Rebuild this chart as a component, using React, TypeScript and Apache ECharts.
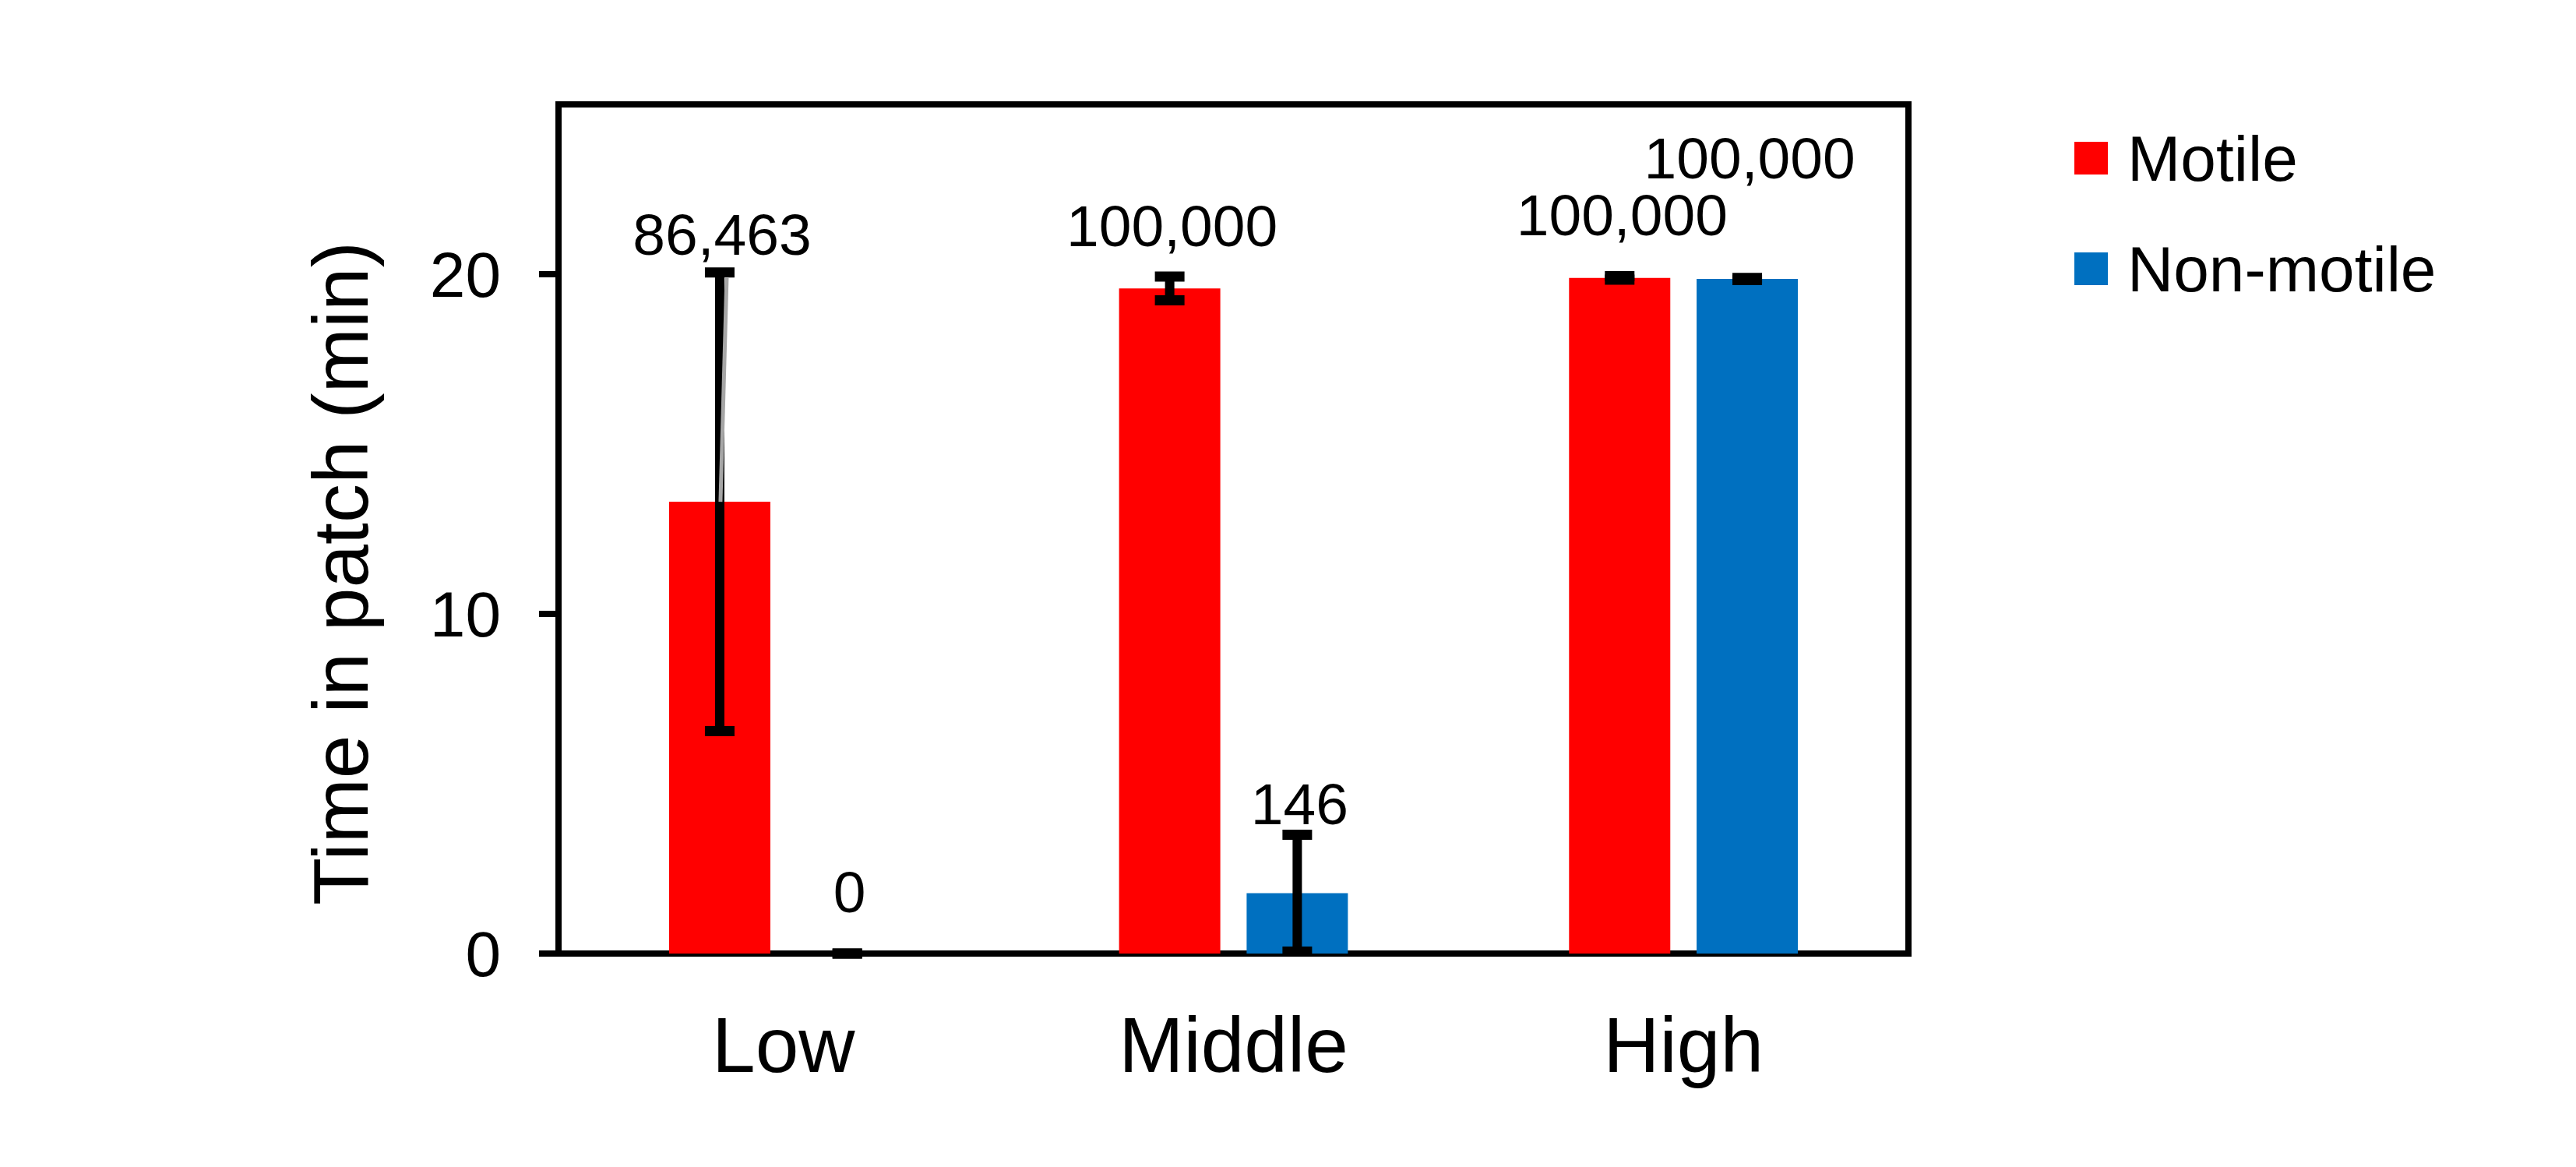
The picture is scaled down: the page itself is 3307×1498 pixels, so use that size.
import React, { useEffect, useRef } from "react";
import * as echarts from "echarts";

// ---- data ----
const categories = ["Low", "Middle", "High"];
const seriesNames = ["Motile", "Non-motile"];
const motileMean = [13.3, 19.58, 19.89];
const motileErr = [6.75, 0.35, 0.05];
const nonMotileMean = [0, 1.78, 19.86];
const nonMotileErr = [0, 1.72, 0.03];
const motileLabels = ["86,463", "100,000", "100,000"];
const nonMotileLabels = ["0", "146", "100,000"];
const yTicks = [0, 10, 20];
const lowMotileTrace = [13.3, 20.0]; // faint grey line next to the Low/Motile error bar

// ---- styling / layout ----
const FONT = "'Liberation Sans', Arial, Helvetica, sans-serif";
const COLORS = ["#FF0000", "#0070C0"];
const BAR_FRAC = 0.225;
const GAP_FRAC = 0.26;
const labelLift = [
  [49, 65, 79],
  [79, 39, 154],
];

function barOffset(api: any, s: number) {
  const band = api.size([1, 0])[0];
  const bw = band * BAR_FRAC;
  const gap = bw * GAP_FRAC;
  return ((s === 0 ? -1 : 1) * (bw + gap)) / 2;
}

function errorSeries(s: number, means: number[], errs: number[], labels: string[]) {
  return {
    type: "custom",
    name: seriesNames[s] + " error",
    z: 5,
    data: means.map((m, i) => [i, m, errs[i]]),
    encode: { x: 0, y: 1 },
    renderItem: (params: any, api: any) => {
      const idx = api.value(0);
      const mean = api.value(1);
      const err = api.value(2);
      const c = api.coord([idx, mean]);
      const x = c[0] + barOffset(api, s);
      const yHi = api.coord([idx, mean + err])[1];
      const yLo = api.coord([idx, Math.max(0, mean - err)])[1];
      const st = { stroke: "#000", lineWidth: 12 };
      const cap = { stroke: "#000", lineWidth: 13 };
      return {
        type: "group",
        children: [
          { type: "line", shape: { x1: x, y1: yHi, x2: x, y2: yLo }, style: st },
          { type: "line", shape: { x1: x - 19, y1: yHi, x2: x + 19, y2: yHi }, style: cap },
          { type: "line", shape: { x1: x - 19, y1: yLo, x2: x + 19, y2: yLo }, style: cap },
          {
            type: "text",
            x: x + 3,
            y: yHi - labelLift[s][idx],
            style: {
              text: labels[idx],
              fill: "#000",
              font: `75px ${FONT}`,
              align: "center",
              verticalAlign: "middle",
            },
          },
        ],
      };
    },
  };
}

export default function App() {
  const ref = useRef<HTMLDivElement>(null);
  useEffect(() => {
    if (!ref.current) return;
    const chart = echarts.init(ref.current, null, { renderer: "svg" });
    const option: any = {
      animation: false,
      backgroundColor: "#fff",
      grid: {
        left: 717,
        top: 134,
        width: 1733,
        height: 1090,
        show: true,
        borderColor: "#000",
        borderWidth: 8,
        backgroundColor: "transparent",
      },
      legend: {
        data: seriesNames,
        orient: "vertical",
        left: 2663,
        top: 158,
        padding: 0,
        itemWidth: 43,
        itemHeight: 42,
        itemGap: 52,
        icon: "rect",
        textStyle: {
          fontSize: 82,
          fontFamily: FONT,
          color: "#000",
          lineHeight: 90,
          padding: [0, 0, 0, 20],
        },
      },
      xAxis: {
        type: "category",
        data: categories,
        axisLine: { show: true, lineStyle: { color: "#000", width: 8 } },
        axisTick: { show: false },
        axisLabel: {
          fontSize: 100,
          lineHeight: 100,
          fontFamily: FONT,
          color: "#000",
          margin: 67,
        },
        splitLine: { show: false },
      },
      yAxis: {
        type: "value",
        min: 0,
        max: 25,
        interval: 10,
        axisLine: { show: true, lineStyle: { color: "#000", width: 8 } },
        axisTick: {
          show: true,
          length: 25,
          inside: false,
          customValues: yTicks,
          lineStyle: { color: "#000", width: 8 },
        },
        axisLabel: {
          customValues: yTicks,
          fontSize: 82,
          fontFamily: FONT,
          color: "#000",
          margin: 74,
        },
        splitLine: { show: false },
      },
      graphic: [
        {
          type: "text",
          x: 437,
          y: 736,
          rotation: Math.PI / 2,
          style: {
            text: "Time in patch (min)",
            font: `100px ${FONT}`,
            fill: "#000",
            align: "center",
            verticalAlign: "middle",
          },
        },
      ],
      series: [
        {
          type: "bar",
          name: seriesNames[0],
          data: motileMean,
          barWidth: `${BAR_FRAC * 100}%`,
          barGap: `${GAP_FRAC * 100}%`,
          itemStyle: { color: COLORS[0] },
          z: 2,
        },
        {
          type: "bar",
          name: seriesNames[1],
          data: nonMotileMean,
          barWidth: `${BAR_FRAC * 100}%`,
          barGap: `${GAP_FRAC * 100}%`,
          itemStyle: { color: COLORS[1] },
          z: 2,
        },
        errorSeries(0, motileMean, motileErr, motileLabels),
        errorSeries(1, nonMotileMean, nonMotileErr, nonMotileLabels),
        {
          type: "custom",
          name: "trace",
          z: 6,
          data: [[0, lowMotileTrace[0], lowMotileTrace[1]]],
          encode: { x: 0, y: 1 },
          renderItem: (params: any, api: any) => {
            const idx = api.value(0);
            const off = barOffset(api, 0);
            const p1 = api.coord([idx, api.value(1)]);
            const p2 = api.coord([idx, api.value(2)]);
            return {
              type: "line",
              shape: { x1: p1[0] + off + 1, y1: p1[1], x2: p2[0] + off + 9, y2: p2[1] + 5 },
              style: { stroke: "#A6A6A6", lineWidth: 5 },
            };
          },
        },
      ],
    };
    chart.setOption(option);
    return () => chart.dispose();
  }, []);
  return (
    <div
      ref={ref}
      style={{ position: "fixed", left: 0, top: 0, width: 3307, height: 1498, background: "#fff" }}
    />
  );
}
